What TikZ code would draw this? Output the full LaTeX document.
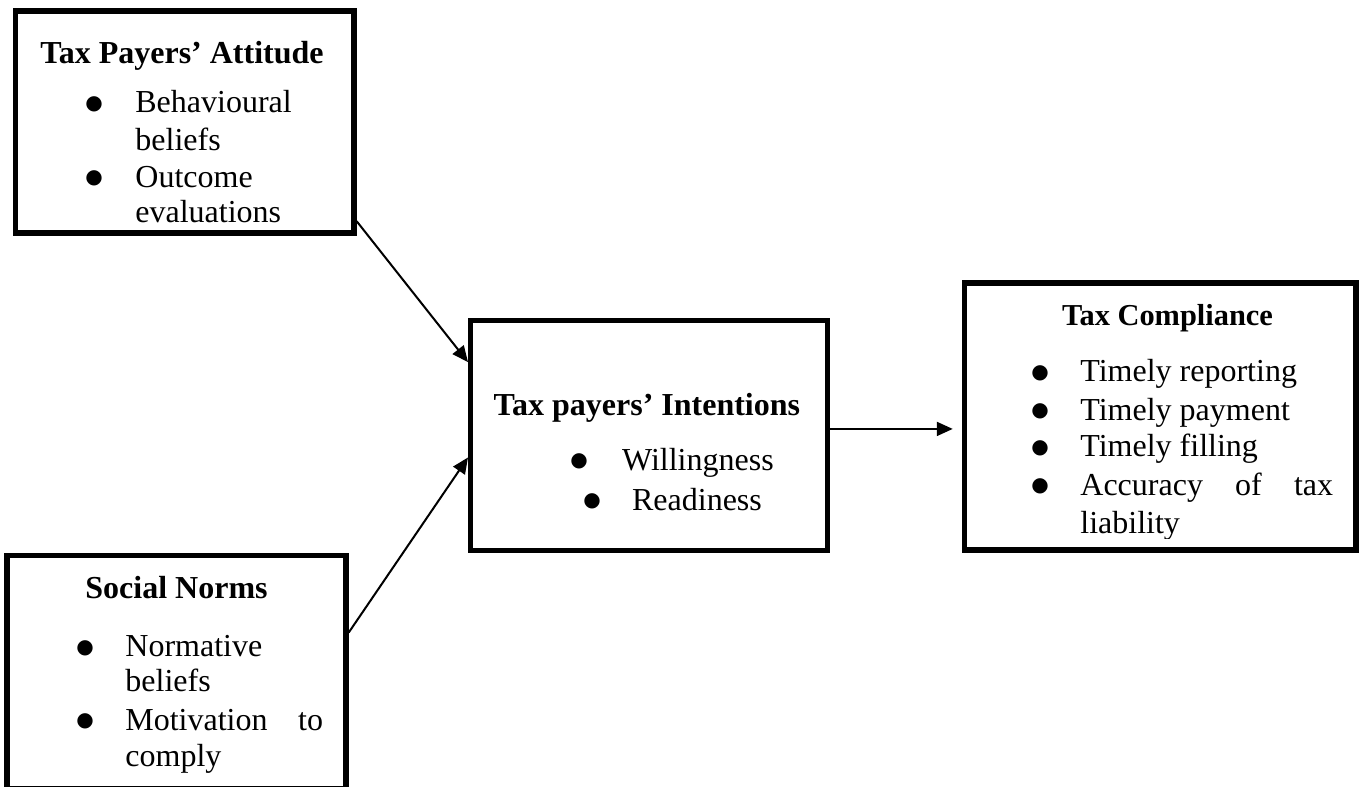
\documentclass[tikz,border=0pt]{standalone}
\usepackage{fontspec}
\setmainfont{Liberation Serif}
\newfontfamily\bulfont{DejaVu Sans}
\usetikzlibrary{arrows.meta}
\begin{document}
\begin{tikzpicture}[x=0.5pt,y=-0.5pt,
  box/.style={draw, line width=2.75pt, inner sep=0pt},
  txt/.style={inner sep=0pt, anchor=base west, font=\fontsize{16}{19}\selectfont},
  ttl/.style={txt, font=\fontsize{16}{19}\selectfont\bfseries},
  bul/.style={inner sep=0pt, anchor=base, yshift=1.6pt, font=\bulfont\fontsize{10}{12}\selectfont},
  arr/.style={line width=1pt, -{Triangle[length=8pt,width=7pt]}}]
\useasboundingbox (0,0) rectangle (1361,787);
% boxes
\node[box, minimum width=169.25pt, minimum height=111pt] (att) at (184.75,122) {};
\node[box, minimum width=169.5pt, minimum height=116.75pt] (soc) at (176.5,672.25) {};
\node[box, line width=2.5pt, minimum width=178.5pt, minimum height=114.75pt] (int) at (649,435.25) {};
\node[box, minimum width=195.75pt, minimum height=133.5pt] (com) at (1160.25,416.5) {};
% attitude
\node[ttl] (attT) at (40,63.3) {Tax Payers’ Attitude};
\node[bul] (attB1) at (94,112.5) {●};
\node[txt] (attL1) at (135,112.5) {Behavioural};
\node[txt] (attL2) at (135,150) {beliefs};
\node[bul] (attB2) at (94,187) {●};
\node[txt] (attL3) at (135,187) {Outcome};
\node[txt] (attL4) at (135,222.5) {evaluations};
% social norms
\node[ttl] (socT) at (85,598.3) {Social Norms};
\node[bul] (socB1) at (85,656.7) {●};
\node[txt] (socL1) at (125,656.7) {Normative};
\node[txt] (socL2) at (125,691.7) {beliefs};
\node[bul] (socB2) at (85,730) {●};
\node[txt] (socL3) at (125,730) {\hbox to 98.85pt{Motivation\hfill to}};
\node[txt] (socL4) at (125,766.7) {comply};
% intentions
\node[ttl] (intT) at (493.3,415) {Tax payers’ Intentions};
\node[bul] (intB1) at (579,470) {●};
\node[txt] (intL1) at (621.7,470) {Willingness};
\node[bul] (intB2) at (592,510) {●};
\node[txt] (intL2) at (631.7,510) {Readiness};
% compliance
\node[ttl, font=\fontsize{15.2}{19}\selectfont\bfseries] (comT) at (1061.7,325) {Tax Compliance};
\node[bul] (comB1) at (1040,381.7) {●};
\node[txt] (comL1) at (1080,381.7) {Timely reporting};
\node[bul] (comB2) at (1040,420) {●};
\node[txt] (comL2) at (1080,420) {Timely payment};
\node[bul] (comB3) at (1040,456.7) {●};
\node[txt] (comL3) at (1080,456.7) {Timely filling};
\node[bul] (comB4) at (1040,495) {●};
\node[txt] (comL4) at (1080,495) {\hbox to 126.35pt{Accuracy\hfill of\hfill tax}};
\begin{scope}
\clip (964.5,283) rectangle (1356,538);
\node[txt] (comL5) at (1080,533.3) {liability};
\end{scope}
% arrows
\draw[arr] (att.-30.4) -- (int.158.7);
\draw[arr] (soc.13.2) -- (int.187.2);
\draw[arr, shorten >=4.5pt] (int.2.63) -- (int.2.63 -| com.west);
\end{tikzpicture}
\end{document}
